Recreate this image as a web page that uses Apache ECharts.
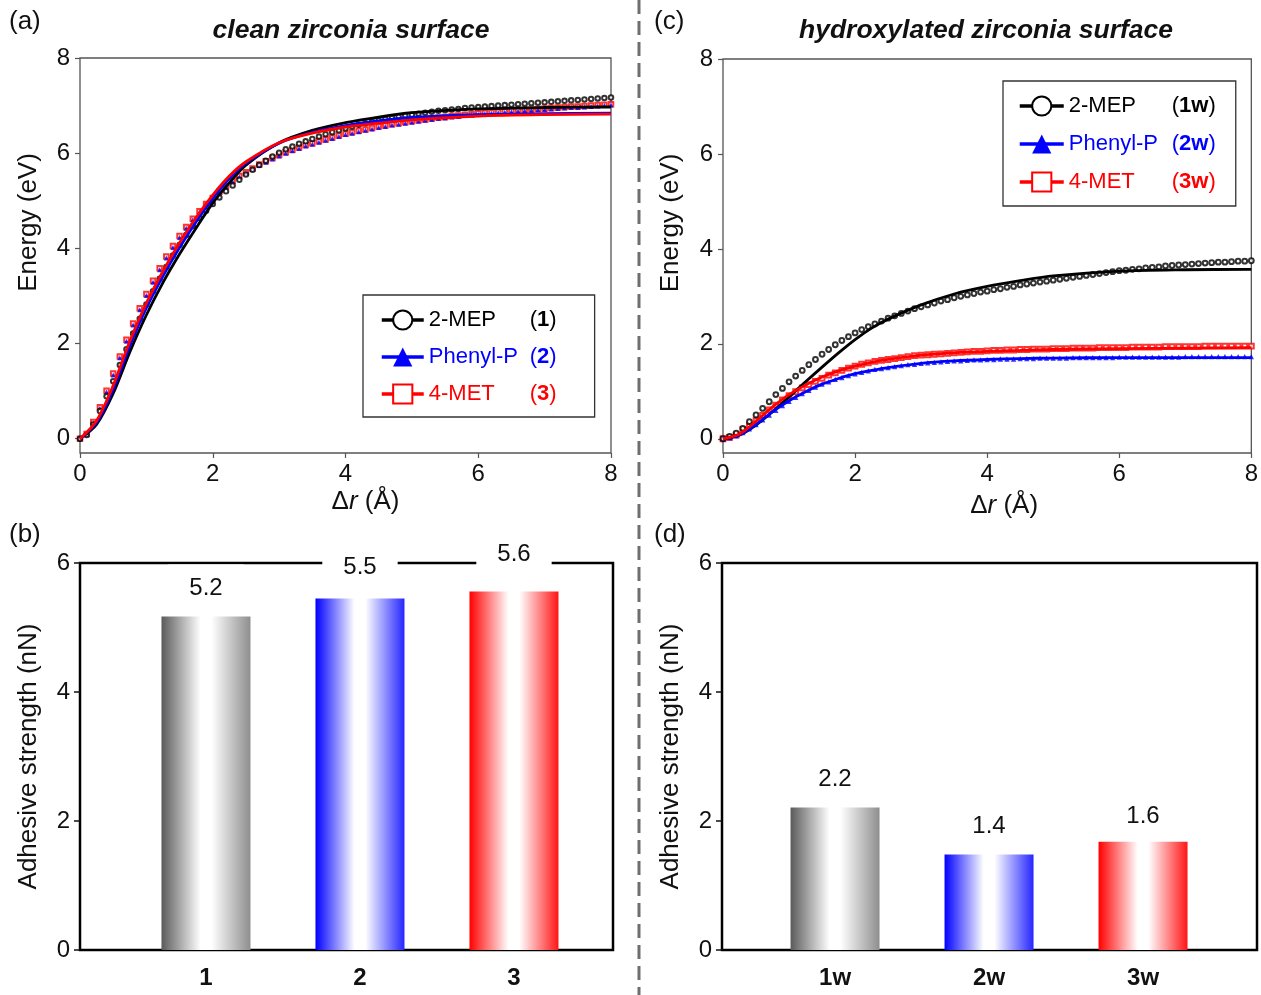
<!DOCTYPE html>
<html><head><meta charset="utf-8">
<script src="https://cdn.jsdelivr.net/npm/echarts@6/dist/echarts.min.js"></script>
<style>html,body{margin:0;padding:0;background:#fff}#c{width:1261px;height:995px}</style>
</head><body><div id="c"></div>
<script>
// ---------- DATA ----------
const drPoints = [
  0.0,0.1,0.2,0.3,0.4,0.5,0.6,0.7,0.8,0.9,
  1.0,1.1,1.2,1.3,1.4,1.5,1.6,1.7,1.8,1.9,
  2.0,2.1,2.2,2.3,2.4,2.5,2.6,2.7,2.8,2.9,
  3.0,3.1,3.2,3.3,3.4,3.5,3.6,3.7,3.8,3.9,
  4.0,4.1,4.2,4.3,4.4,4.5,4.6,4.7,4.8,4.9,
  5.0,5.1,5.2,5.3,5.4,5.5,5.6,5.7,5.8,5.9,
  6.0,6.1,6.2,6.3,6.4,6.5,6.6,6.7,6.8,6.9,
  7.0,7.1,7.2,7.3,7.4,7.5,7.6,7.7,7.8,7.9,
  8.0];
const fitDr = [0,0.25,0.5,0.75,1,1.25,1.5,1.75,2,2.25,2.5,3,3.5,4,4.5,5,6,7,8];

// (a) clean surface, computed points
const cleanMEPpts = [
  0,0.08,0.30,0.58,0.89,1.21,1.55,1.88,2.21,2.52,
  2.82,3.10,3.36,3.61,3.85,4.07,4.28,4.47,4.64,4.79,
  4.93,5.07,5.20,5.32,5.44,5.55,5.65,5.75,5.84,5.93,
  6.01,6.08,6.14,6.20,6.25,6.30,6.35,6.40,6.44,6.48,
  6.52,6.56,6.60,6.63,6.66,6.69,6.72,6.74,6.77,6.79,
  6.81,6.83,6.85,6.87,6.89,6.90,6.92,6.93,6.95,6.96,
  6.97,6.98,6.99,7.00,7.01,7.02,7.03,7.04,7.05,7.06,
  7.07,7.08,7.09,7.10,7.11,7.12,7.13,7.14,7.15,7.16,
  7.17];
const cleanPhenylPpts = [
  0,0.09,0.33,0.64,0.98,1.34,1.70,2.05,2.39,2.71,
  3.01,3.29,3.55,3.80,4.02,4.23,4.42,4.60,4.76,4.91,
  5.04,5.17,5.29,5.40,5.50,5.58,5.66,5.74,5.81,5.88,
  5.94,6.00,6.05,6.10,6.15,6.19,6.23,6.27,6.31,6.35,
  6.39,6.42,6.45,6.48,6.51,6.54,6.56,6.59,6.61,6.63,
  6.65,6.67,6.69,6.71,6.73,6.74,6.76,6.77,6.79,6.80,
  6.82,6.83,6.84,6.85,6.86,6.87,6.88,6.89,6.90,6.91,
  6.92,6.93,6.94,6.95,6.96,6.96,6.97,6.98,6.99,7.00,
  7.01];
const cleanMETpts = [
  0,0.10,0.35,0.66,1.01,1.37,1.73,2.08,2.42,2.74,
  3.04,3.32,3.58,3.83,4.05,4.26,4.45,4.62,4.78,4.93,
  5.06,5.19,5.31,5.42,5.52,5.60,5.68,5.76,5.83,5.90,
  5.96,6.02,6.07,6.12,6.17,6.21,6.25,6.29,6.33,6.37,
  6.41,6.44,6.47,6.50,6.53,6.56,6.58,6.61,6.63,6.65,
  6.67,6.69,6.71,6.73,6.75,6.76,6.78,6.79,6.81,6.82,
  6.84,6.85,6.86,6.87,6.88,6.89,6.90,6.91,6.92,6.93,
  6.94,6.95,6.96,6.97,6.98,6.98,6.99,7.00,7.01,7.02,
  7.03];
// (a) fitted curves
const cleanMEPfit     = [0,0.30,0.95,1.82,2.60,3.28,3.88,4.43,4.95,5.38,5.75,6.22,6.48,6.64,6.76,6.85,6.93,6.96,6.97];
const cleanPhenylPfit = [0,0.34,1.04,1.95,2.75,3.42,4.02,4.56,5.05,5.47,5.79,6.21,6.44,6.58,6.68,6.75,6.81,6.83,6.84];
const cleanMETfit     = [0,0.38,1.12,2.05,2.85,3.52,4.12,4.65,5.12,5.52,5.82,6.22,6.42,6.55,6.63,6.70,6.78,6.81,6.82];

// (c) hydroxylated surface, computed points
const hydMEPpts = [
  0,0.05,0.12,0.22,0.36,0.50,0.64,0.78,0.93,1.06,
  1.20,1.32,1.44,1.56,1.67,1.78,1.88,1.98,2.07,2.15,
  2.23,2.30,2.36,2.42,2.48,2.54,2.59,2.64,2.69,2.74,
  2.78,2.82,2.86,2.90,2.93,2.97,3.00,3.03,3.06,3.09,
  3.11,3.14,3.16,3.19,3.21,3.24,3.26,3.28,3.30,3.32,
  3.34,3.36,3.38,3.40,3.42,3.44,3.46,3.48,3.50,3.52,
  3.54,3.55,3.57,3.58,3.60,3.61,3.62,3.64,3.65,3.66,
  3.67,3.68,3.69,3.70,3.71,3.72,3.72,3.73,3.74,3.74,
  3.75];
const hydPhenylPpts = [
  0,0.02,0.06,0.13,0.21,0.30,0.40,0.50,0.60,0.70,
  0.79,0.87,0.95,1.02,1.09,1.15,1.20,1.25,1.29,1.33,
  1.37,1.40,1.43,1.46,1.48,1.50,1.52,1.54,1.56,1.57,
  1.59,1.60,1.61,1.62,1.63,1.64,1.64,1.65,1.66,1.66,
  1.67,1.67,1.68,1.68,1.68,1.69,1.69,1.69,1.70,1.70,
  1.70,1.70,1.70,1.71,1.71,1.71,1.71,1.71,1.71,1.71,
  1.72,1.72,1.72,1.72,1.72,1.72,1.72,1.72,1.72,1.72,
  1.73,1.73,1.73,1.73,1.73,1.73,1.73,1.73,1.73,1.73,
  1.73];
const hydMETpts = [
  0,0.03,0.08,0.19,0.27,0.38,0.49,0.61,0.71,0.82,
  0.91,0.99,1.07,1.14,1.21,1.27,1.34,1.39,1.44,1.49,
  1.53,1.57,1.60,1.63,1.65,1.67,1.69,1.71,1.73,1.75,
  1.76,1.77,1.78,1.79,1.80,1.81,1.82,1.83,1.84,1.84,
  1.85,1.86,1.86,1.87,1.87,1.88,1.88,1.89,1.89,1.89,
  1.90,1.90,1.90,1.91,1.91,1.91,1.91,1.92,1.92,1.92,
  1.92,1.92,1.93,1.93,1.93,1.93,1.93,1.94,1.94,1.94,
  1.94,1.94,1.94,1.95,1.95,1.95,1.95,1.95,1.95,1.95,
  1.95];
// (c) fitted curves
const hydMEPfit     = [0,0.08,0.29,0.57,0.88,1.20,1.51,1.81,2.09,2.33,2.52,2.82,3.05,3.21,3.33,3.43,3.53,3.56,3.57];
const hydPhenylPfit = [0,0.08,0.30,0.57,0.80,0.99,1.15,1.27,1.37,1.44,1.50,1.59,1.64,1.67,1.69,1.70,1.71,1.71,1.71];
const hydMETfit     = [0,0.10,0.37,0.67,0.93,1.13,1.30,1.43,1.53,1.61,1.67,1.76,1.81,1.84,1.86,1.88,1.90,1.91,1.92];

// bars
const barCatsClean = ['1','2','3'];
const barValsClean = [5.17,5.45,5.56];
const barLabelsClean = ['5.2','5.5','5.6'];
const barCatsHyd = ['1w','2w','3w'];
const barValsHyd = [2.21,1.48,1.68];
const barLabelsHyd = ['2.2','1.4','1.6'];

// legend text
const molNames = ['2-MEP','Phenyl-P','4-MET'];
const cleanIds = ['1','2','3'];
const hydIds = ['1w','2w','3w'];
const energyTicks = [0,2,4,6,8];

// ---------- STYLE ----------
const FONT = 'Liberation Sans, Arial, sans-serif';
const COLORS = ['#000000','#0000ff','#ff0000'];
const SYMS = ['emptyCircle','triangle','emptyRect'];
const chart = echarts.init(document.getElementById('c'), null, {renderer:'canvas'});

const pairs = (xs, ys) => xs.map((x,i)=>[x, ys[i]]);

const cleanSeriesNames = molNames.map((n,i)=>n+' ('+cleanIds[i]+')');
const hydSeriesNames = molNames.map((n,i)=>n+' ('+hydIds[i]+')');

function legendRich(nameW){
  const r = {};
  COLORS.forEach((c,i)=>{
    r['n'+i] = {color:c, fontSize:22, fontFamily:FONT, width:nameW, lineHeight:24};
    r['p'+i] = {color:c, fontSize:22, fontFamily:FONT, lineHeight:24};
    r['b'+i] = {color:c, fontSize:22, fontFamily:FONT, fontWeight:'bold', lineHeight:24};
  });
  return r;
}
function legendFormatter(seriesNames, ids){
  return name => {
    const i = seriesNames.indexOf(name);
    return '{n'+i+'|'+molNames[i]+'}{p'+i+'|(}{b'+i+'|'+ids[i]+'}{p'+i+'|)}';
  };
}

function energySeries(gi, ptsArr, fitArr, names, msize){
  const s = [];
  const order = [2,1,0];
  order.forEach(k=>{
    s.push({
      type:'scatter', name: names[k]+' pts', xAxisIndex:gi, yAxisIndex:gi,
      data: pairs(drPoints, ptsArr[k]),
      symbol: SYMS[k], symbolSize: k===1 ? msize+0.5 : msize,
      itemStyle: {color: COLORS[k], borderWidth: 1.1},
      silent:true, z:2
    });
  });
  [0,1,2].forEach(k=>{
    s.push({
      type:'line', name: names[k], xAxisIndex:gi, yAxisIndex:gi,
      data: pairs(fitDr, fitArr[k]),
      smooth: 0.3,
      symbol: SYMS[k], showSymbol:false, symbolSize:8,
      lineStyle:{color:COLORS[k], width:2.8},
      itemStyle:{color:COLORS[k]},
      silent:true, z:3
    });
  });
  return s;
}

function gradient(k){
  const stops = [
    ['#5a5a5a','#8e8e8e'],
    ['#0000ff','#2525ff'],
    ['#ff0000','#ff1515']
  ][k];
  return {type:'linear', x:0, y:0, x2:1, y2:0, colorStops:[
    {offset:0, color:stops[0]},
    {offset:0.44, color:'#ffffff'},
    {offset:0.56, color:'#ffffff'},
    {offset:1, color:stops[1]}
  ]};
}

function barSeries(gi, vals, labels, distances, withBg){
  return {
    type:'bar', xAxisIndex:gi, yAxisIndex:gi, barWidth:89,
    data: vals.map((v,i)=>({value:[i+1, v], itemStyle:{color:gradient(i)}, label:{distance:distances[i]}})),
    label:{
      show:true, position:'top',
      formatter: p => labels[p.dataIndex],
      fontFamily:FONT, fontSize:24, color:'#111', lineHeight:24,
      backgroundColor: withBg ? '#ffffff' : 'transparent',
      padding: withBg ? [12,21,12,21] : 0
    },
    silent:true, z:2
  };
}

const energyAxisY = (nameGap)=>({
  type:'value', min:-0.3, max:8,
  axisLine:{show:false, onZero:false},
  axisTick:{show:true, inside:false, length:5, customValues:energyTicks, lineStyle:{color:'#555', width:1.2}},
  axisLabel:{customValues:energyTicks, margin:10, fontFamily:FONT, fontSize:24, color:'#111'},
  splitLine:{show:false},
  name:'Energy (eV)', nameLocation:'middle', nameGap:nameGap,
  nameTextStyle:{fontFamily:FONT, fontSize:26, color:'#111', padding:[0,0,0,66]}
});
const energyAxisX = (padL, nameGap)=>({
  type:'value', min:0, max:8, interval:2,
  axisLine:{show:false, onZero:false},
  axisTick:{show:true, inside:false, length:5, lineStyle:{color:'#555', width:1.2}},
  axisLabel:{margin:9, fontFamily:FONT, fontSize:24, color:'#111'},
  splitLine:{show:false},
  name:'{d|Δ}{i|r}{d| (Å)}', nameLocation:'middle', nameGap:nameGap,
  nameTextStyle:{padding:[0,0,0,padL], rich:{
    d:{fontFamily:FONT, fontSize:26, color:'#111'},
    i:{fontFamily:FONT, fontSize:26, color:'#111', fontStyle:'italic'}
  }}
});
const strengthAxisY = ()=>({
  type:'value', min:0, max:6, interval:2,
  axisLine:{show:false, onZero:false},
  axisTick:{show:true, length:6, lineStyle:{color:'#111', width:1.5}},
  axisLabel:{margin:10, fontFamily:FONT, fontSize:24, color:'#111'},
  splitLine:{show:false},
  name:'Adhesive strength (nN)', nameLocation:'middle', nameGap:38,
  nameTextStyle:{fontFamily:FONT, fontSize:26, color:'#111'}
});
const catAxisX = (cats, mn, mx)=>({
  type:'value', min:mn, max:mx,
  axisLine:{show:false, onZero:false},
  axisTick:{show:false},
  axisLabel:{customValues:[1,2,3], formatter: v => cats[Math.round(v)-1],
    margin:16, fontFamily:FONT, fontSize:24, fontWeight:'bold', color:'#111'},
  splitLine:{show:false}
});

const option = {
  backgroundColor:'#ffffff',
  animation:false,
  grid:[
    {left:80, top:58, width:531, height:395, show:true, borderColor:'#555', borderWidth:1.3, backgroundColor:'transparent', containLabel:false},
    {left:723, top:59, width:530, height:394, show:true, borderColor:'#555', borderWidth:1.3, backgroundColor:'transparent', containLabel:false},
    {left:80, top:563, width:533, height:387, show:true, borderColor:'#000', borderWidth:2.5, backgroundColor:'transparent', containLabel:false},
    {left:722, top:563, width:535, height:387, show:true, borderColor:'#000', borderWidth:2.5, backgroundColor:'transparent', containLabel:false}
  ],
  xAxis:[
    Object.assign(energyAxisX(40, 36), {gridIndex:0}),
    Object.assign(energyAxisX(34, 40), {gridIndex:1}),
    Object.assign(catAxisX(barCatsClean, 0.182, 3.643), {gridIndex:2}),
    Object.assign(catAxisX(barCatsHyd, 0.266, 3.74), {gridIndex:3})
  ],
  yAxis:[
    Object.assign(energyAxisY(38), {gridIndex:0}),
    Object.assign(energyAxisY(39), {gridIndex:1}),
    Object.assign(strengthAxisY(), {gridIndex:2}),
    Object.assign(strengthAxisY(), {gridIndex:3})
  ],
  legend:[
    {
      data: cleanSeriesNames, left:363, top:295, orient:'vertical',
      itemWidth:42, itemHeight:24, itemGap:15,
      padding:[14,38,12,17], borderColor:'#333', borderWidth:1.3,
      backgroundColor:'#fff',
      lineStyle:{width:3.5},
      itemStyle:{borderWidth:2.2},
      formatter: legendFormatter(cleanSeriesNames, cleanIds),
      textStyle:{rich: legendRich(101)},
      selectedMode:false
    },
    {
      data: hydSeriesNames, left:1003, top:81, orient:'vertical',
      itemWidth:44, itemHeight:24, itemGap:16,
      padding:[14,20,13,15], borderColor:'#333', borderWidth:1.3,
      backgroundColor:'#fff',
      lineStyle:{width:3.5},
      itemStyle:{borderWidth:2.2},
      formatter: legendFormatter(hydSeriesNames, hydIds),
      textStyle:{rich: legendRich(103)},
      selectedMode:false
    }
  ],
  series:[
    ...energySeries(0, [cleanMEPpts, cleanPhenylPpts, cleanMETpts], [cleanMEPfit, cleanPhenylPfit, cleanMETfit], cleanSeriesNames, 4.5),
    ...energySeries(1, [hydMEPpts, hydPhenylPpts, hydMETpts], [hydMEPfit, hydPhenylPfit, hydMETfit], hydSeriesNames, 4.8),
    barSeries(2, barValsClean, barLabelsClean, [4,7,13], true),
    barSeries(3, barValsHyd, barLabelsHyd, [16,16,13], false)
  ],
  graphic:[
    {type:'line', shape:{x1:639, y1:0, x2:639, y2:995}, style:{stroke:'#6e6e6e', lineWidth:3, lineDash:[14,7]}, silent:true},
    {type:'text', x:9, y:22, style:{text:'(a)', font:'26px '+FONT, fill:'#111', textVerticalAlign:'middle'}},
    {type:'text', x:654, y:22, style:{text:'(c)', font:'26px '+FONT, fill:'#111', textVerticalAlign:'middle'}},
    {type:'text', x:9, y:535, style:{text:'(b)', font:'26px '+FONT, fill:'#111', textVerticalAlign:'middle'}},
    {type:'text', x:654, y:535, style:{text:'(d)', font:'26px '+FONT, fill:'#111', textVerticalAlign:'middle'}},
    {type:'text', x:351, y:31, style:{text:'clean zirconia surface', font:'italic bold 26.5px '+FONT, fill:'#111', textAlign:'center', textVerticalAlign:'middle'}},
    {type:'text', x:986, y:31, style:{text:'hydroxylated zirconia surface', font:'italic bold 26.5px '+FONT, fill:'#111', textAlign:'center', textVerticalAlign:'middle'}}
  ]
};
chart.setOption(option);
</script>
</body></html>
